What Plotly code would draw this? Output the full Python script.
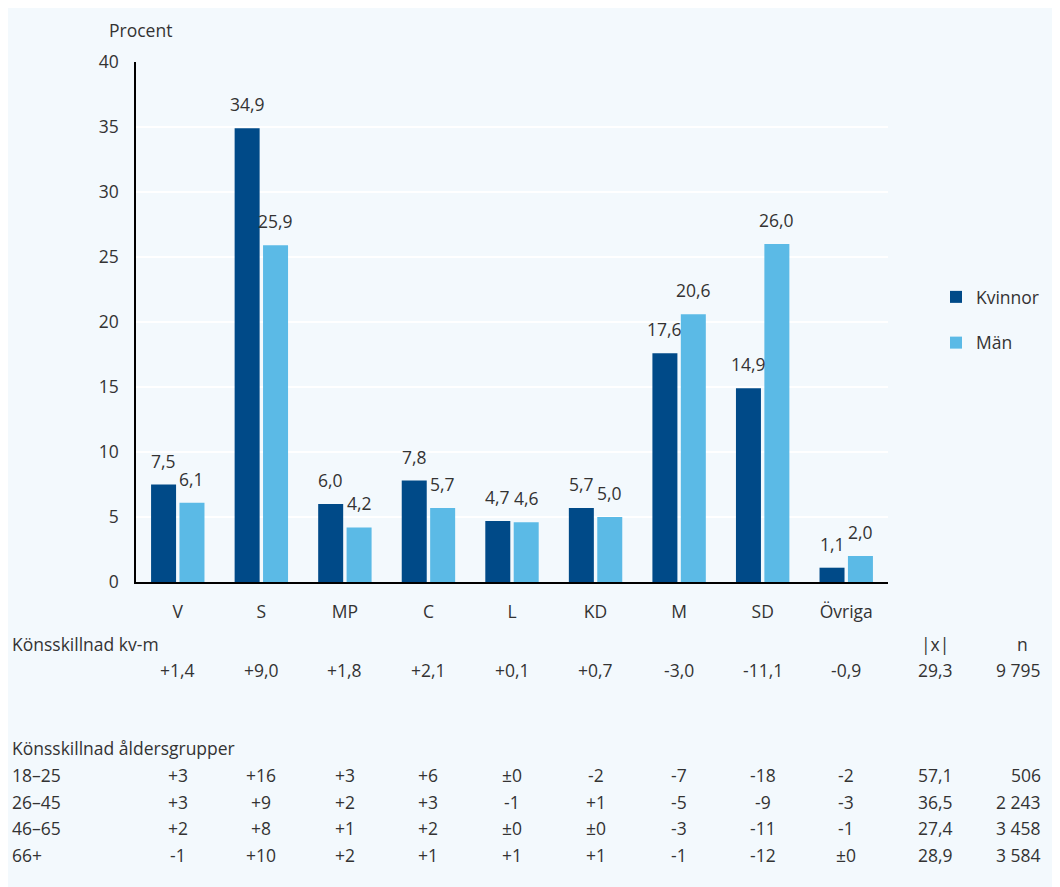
import plotly.graph_objects as go

# ---------------- data ----------------
categories = ["V", "S", "MP", "C", "L", "KD", "M", "SD", "Övriga"]
kvinnor = [7.5, 34.9, 6.0, 7.8, 4.7, 5.7, 17.6, 14.9, 1.1]
man = [6.1, 25.9, 4.2, 5.7, 4.6, 5.0, 20.6, 26.0, 2.0]

diff_kvm = [1.4, 9.0, 1.8, 2.1, 0.1, 0.7, -3.0, -11.1, -0.9]
diff_kvm_absx = 29.3
diff_kvm_n = 9795

age_groups = ["18–25", "26–45", "46–65", "66+"]
age_diffs = [
    [3, 16, 3, 6, 0, -2, -7, -18, -2],
    [3, 9, 2, 3, -1, 1, -5, -9, -3],
    [2, 8, 1, 2, 0, 0, -3, -11, -1],
    [-1, 10, 2, 1, 1, 1, -1, -12, 0],
]
age_absx = [57.1, 36.5, 27.4, 28.9]
age_n = [506, 2243, 3458, 3584]

y_ticks = [0, 5, 10, 15, 20, 25, 30, 35, 40]

# ---------------- style ----------------
FONT = "Open Sans, Noto Sans, sans-serif"
FS = 17.5
TXT = "#333333"
DARK = "#004a88"
LIGHT = "#5bbae6"
BG = "#f3f9fd"

OFF = 8  # page body margin
W, H = 1060 - OFF, 887 - OFF
# plot area bounds in page pixels
PL, PR, PT, PB = 136, 888, 62, 582
L, R, T, B = PL - OFF, PR - OFF, PT - OFF, PB - OFF


def px_x(px):
    return (px - OFF - L) / (R - L)


def px_y(py):
    return (B - (py - OFF)) / (B - T)


def dec(v):
    return f"{v:.1f}".replace(".", ",")


def sdec(v):
    return f"{v:+.1f}".replace(".", ",")


def sint(v):
    if v == 0:
        return "±0"
    return f"{v:+d}"


def thou(n):
    return f"{n:,}".replace(",", " ")


fig = go.Figure()
fig.add_trace(go.Bar(name="Kvinnor", x=categories, y=kvinnor, marker_color=DARK,
                     marker_line_width=0, legendgroup="k"))
fig.add_trace(go.Bar(name="Män", x=categories, y=man, marker_color=LIGHT,
                     marker_line_width=0, legendgroup="m"))

ann = []
# bar value labels
slot = (R - L) / len(categories) * (1 - 0.32) / 4
for c, v in zip(categories, kvinnor):
    ann.append(dict(x=c, y=v, xref="x", yref="y", text=dec(v), showarrow=False,
                    xshift=-slot, yshift=24, yanchor="middle",
                    font=dict(family=FONT, size=FS, color=TXT)))
for c, v in zip(categories, man):
    ann.append(dict(x=c, y=v, xref="x", yref="y", text=dec(v), showarrow=False,
                    xshift=slot, yshift=24, yanchor="middle",
                    font=dict(family=FONT, size=FS, color=TXT)))

# title
ann.append(dict(x=px_x(140), y=px_y(30), xref="paper", yref="paper", text="Procent",
                showarrow=False, xanchor="center", yanchor="middle",
                font=dict(family=FONT, size=FS, color=TXT)))


def txt(x, y, s, xanchor="center", xref="paper"):
    ann.append(dict(x=x, y=px_y(y), xref=xref, yref="paper", text=s, showarrow=False,
                    xanchor=xanchor, yanchor="middle",
                    font=dict(family=FONT, size=FS, color=TXT)))


COL_ABS = px_x(935)
COL_N = px_x(1043)
LEFT = px_x(10)

txt(LEFT, 644, "Könsskillnad kv-m", "left")
txt(COL_ABS, 644, "|x|")
txt(px_x(1023), 644, "n")
for c, v in zip(categories, diff_kvm):
    txt(c, 670, sdec(v), "center", "x")
txt(COL_ABS, 670, dec(diff_kvm_absx))
txt(COL_N, 670, thou(diff_kvm_n), "right")

txt(LEFT, 748, "Könsskillnad åldersgrupper", "left")
row_y = [775, 802, 828, 855]
for g, vals, ax, n, yy in zip(age_groups, age_diffs, age_absx, age_n, row_y):
    txt(LEFT, yy, g, "left")
    for c, v in zip(categories, vals):
        txt(c, yy, sint(v), "center", "x")
    txt(COL_ABS, yy, dec(ax))
    txt(COL_N, yy, thou(n), "right")

fig.update_layout(
    width=W, height=H,
    margin=dict(l=L, r=W - R, t=T, b=H - B, pad=0),
    paper_bgcolor=BG, plot_bgcolor=BG,
    barmode="group", bargap=0.32, bargroupgap=0.12,
    font=dict(family=FONT, size=FS, color=TXT),
    showlegend=True,
    legend=dict(x=px_x(936), y=px_y(279), xanchor="left", yanchor="top",
                traceorder="grouped", tracegroupgap=20, bgcolor="rgba(0,0,0,0)",
                font=dict(family=FONT, size=FS, color=TXT)),
    annotations=ann,
    xaxis=dict(type="category", range=[-0.5, len(categories) - 0.5],
               showline=True, linecolor="black", linewidth=1.5,
               showgrid=False, ticks="", ticklabelstandoff=13,
               tickfont=dict(family=FONT, size=FS, color=TXT), fixedrange=True),
    yaxis=dict(range=[0, 40], tickvals=y_ticks, showline=True, linecolor="black",
               linewidth=1.5, showgrid=True, gridcolor="white", gridwidth=2,
               zeroline=False, ticks="", ticklabelstandoff=12,
               tickfont=dict(family=FONT, size=FS, color=TXT), fixedrange=True),
)

fig.write_html("out.html")
